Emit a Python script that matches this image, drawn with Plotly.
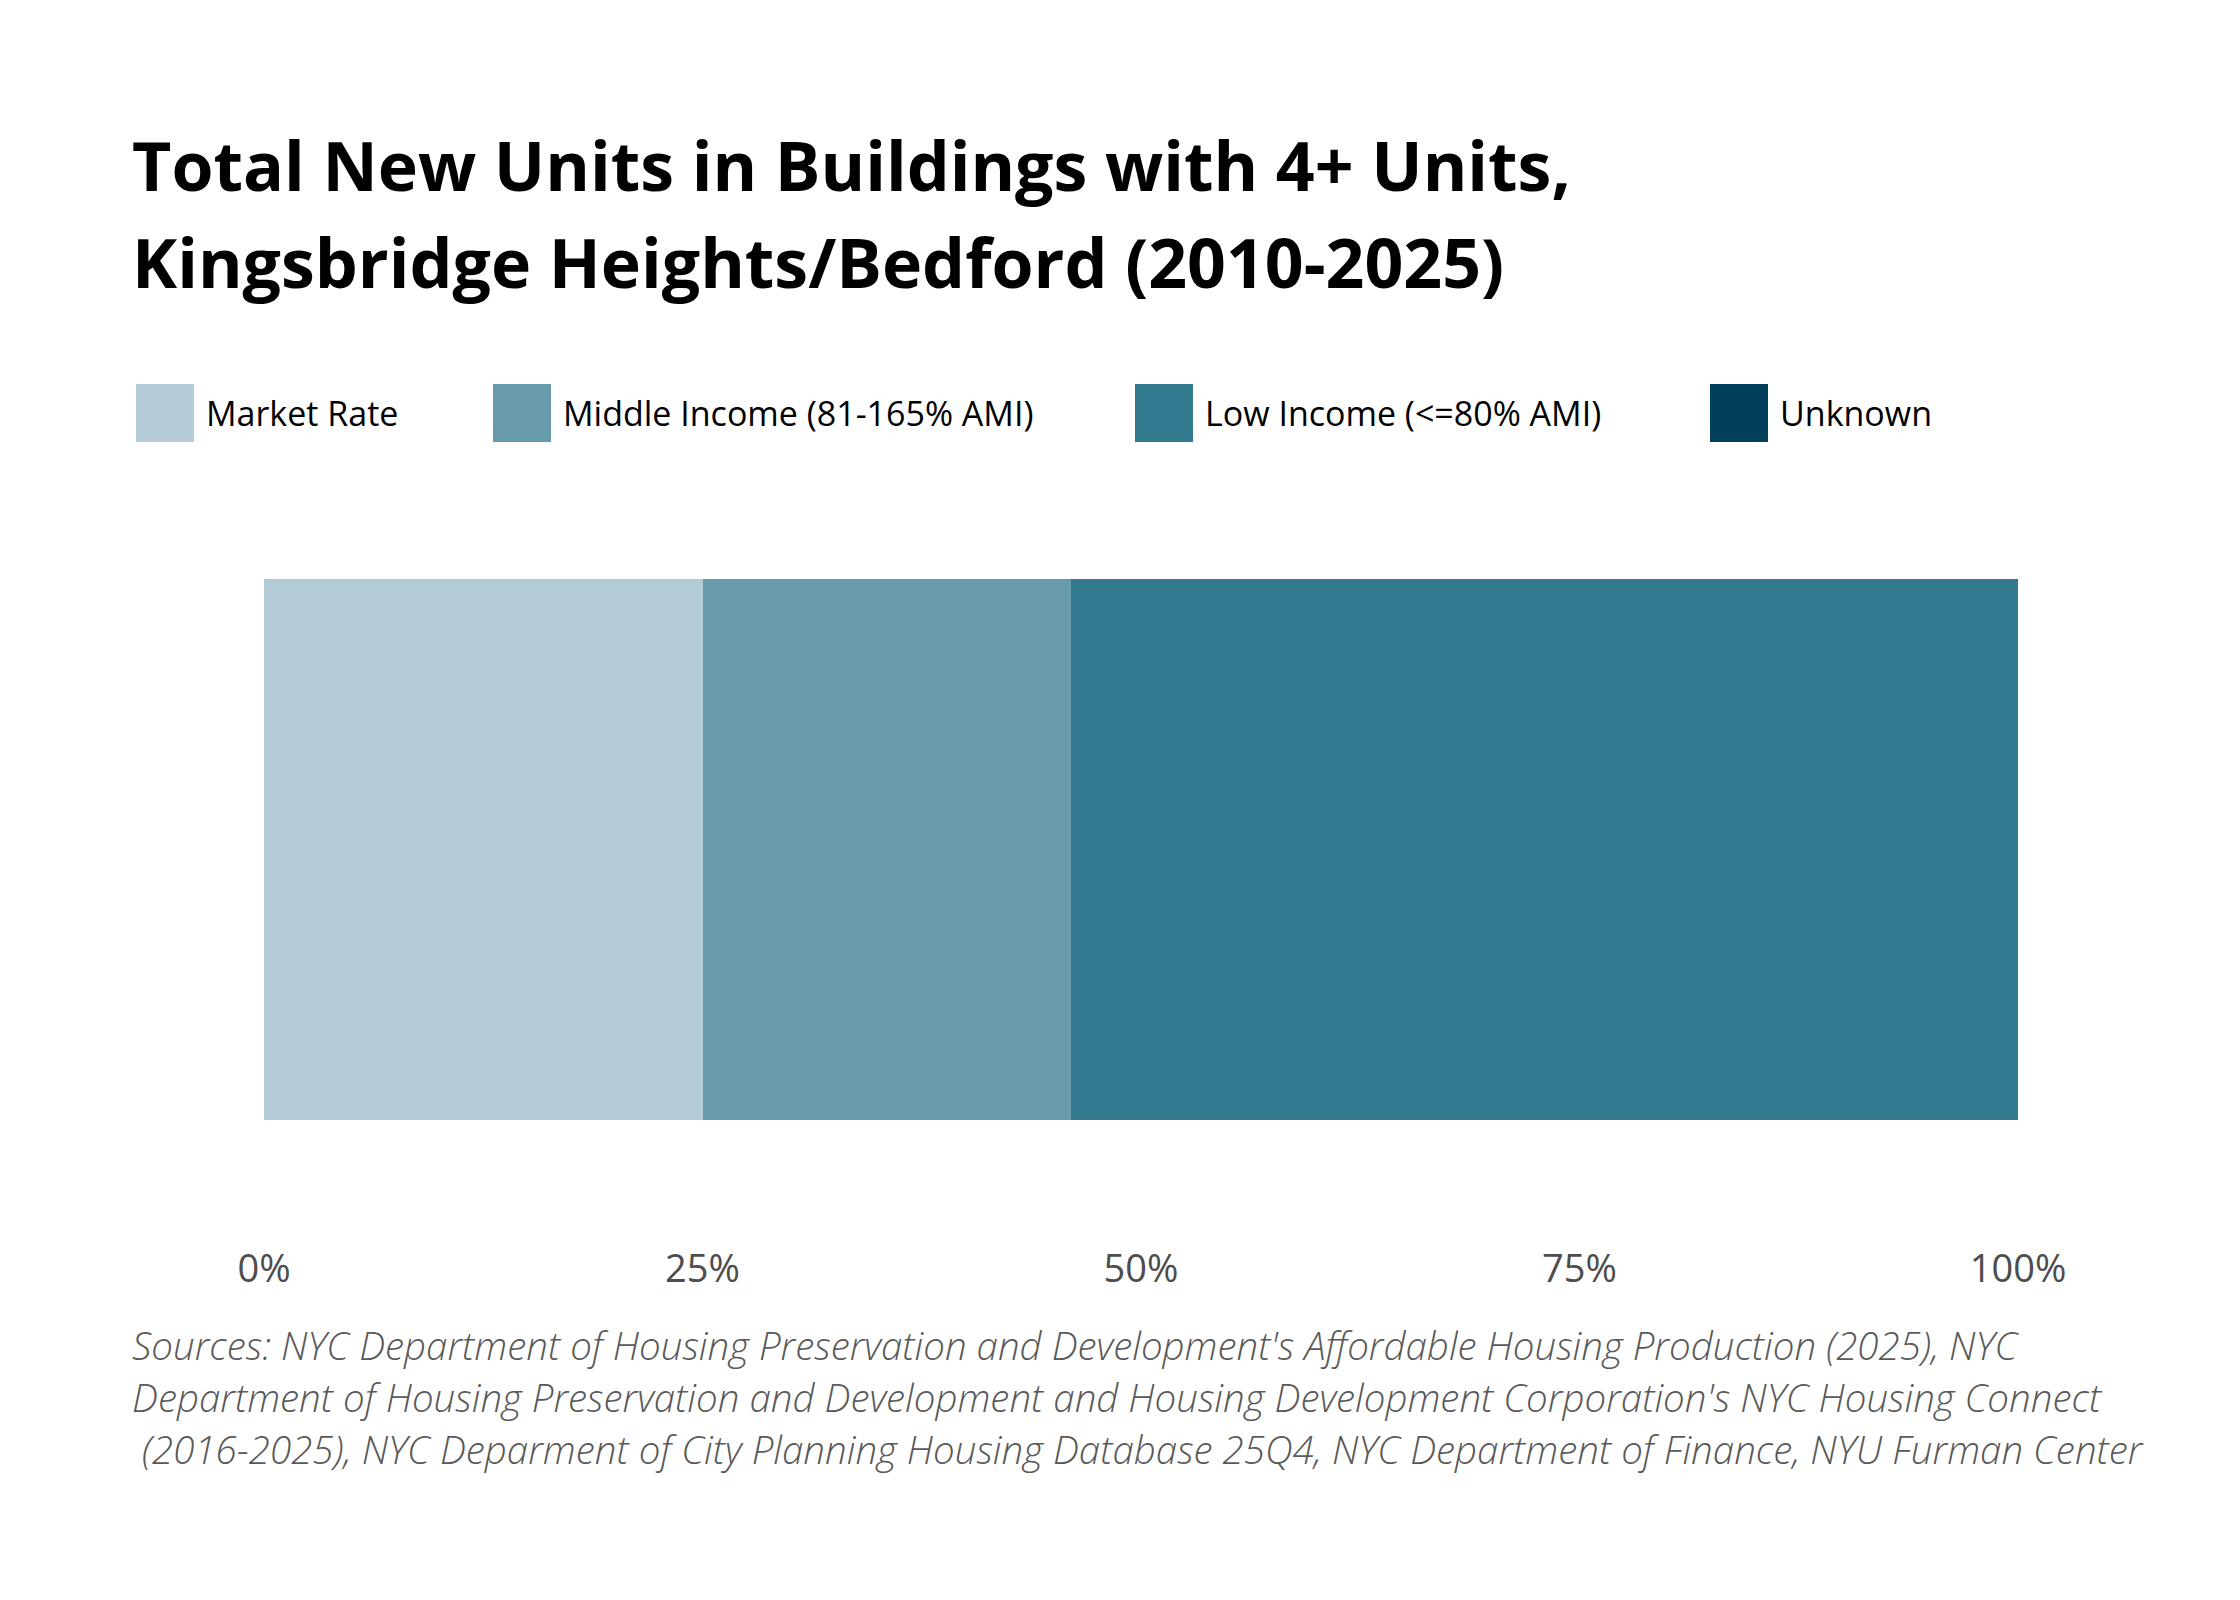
import plotly.graph_objects as go

# data
categories = ["Market Rate", "Middle Income (81-165% AMI)", "Low Income (<=80% AMI)", "Unknown"]
shares = [0.25, 0.21, 0.54, 0.0]
colors = ["#b4ccd5", "#679bab", "#337a8f", "#023f5a"]
tick_vals = [0, 0.25, 0.5, 0.75, 1.0]
tick_text = ["0%", "25%", "50%", "75%", "100%"]

title_lines = [
    "Total New Units in Buildings with 4+ Units,",
    "Kingsbridge Heights/Bedford (2010-2025)",
]
source_lines = [
    "Sources: NYC Department of Housing Preservation and Development's Affordable Housing Production (2025), NYC",
    "Department of Housing Preservation and Development and Housing Development Corporation's NYC Housing Connect",
    "&nbsp;(2016-2025), NYC Deparment of City Planning Housing Database 25Q4, NYC Department of Finance, NYU Furman Center",
]

# page offset (body margin) seen in the screenshot
OX, OY = 10, 11
W, H = 2240, 1600
# plot box wanted on screen
X0, X1, Y0, Y1 = 266, 2029, 582, 1123
L, T = X0 - OX, Y0 - OY
R, B = W - (X1 - OX - 9), H - (Y1 - OY)
PW, PH = W - L - R, H - T - B


def px_x(x):
    return (x - OX - L) / PW


def px_y(y):
    return (H - B - (y - OY)) / PH


FONT = "Open Sans"

fig = go.Figure()
for name, val, col in zip(categories, shares, colors):
    fig.add_trace(go.Bar(
        x=[val], y=[0], orientation="h", name=name,
        marker=dict(color=col, line=dict(width=0)),
        width=1, showlegend=False,
    ))

annotations = []
shapes = []

for i, line in enumerate(title_lines):
    annotations.append(dict(
        text="<b>" + line + "</b>", x=px_x(132), y=px_y(167 + i * 98),
        xref="paper", yref="paper", xanchor="left", yanchor="middle",
        showarrow=False, font=dict(family=FONT, size=68, color="#000000"),
    ))

# legend drawn by hand so the swatches can be large
legend_x = [138, 495, 1137, 1712]
sw = 58
leg_y = 416
for name, col, lx in zip(categories, colors, legend_x):
    shapes.append(dict(
        type="rect", xref="paper", yref="paper",
        x0=px_x(lx), x1=px_x(lx + sw), y0=px_y(leg_y + sw / 2), y1=px_y(leg_y - sw / 2),
        fillcolor=col, line=dict(width=0),
    ))
    annotations.append(dict(
        text=name, x=px_x(lx + sw + 10), y=px_y(leg_y),
        xref="paper", yref="paper", xanchor="left", yanchor="middle",
        showarrow=False, font=dict(family=FONT, size=34, color="#000000"),
    ))

for i, line in enumerate(source_lines):
    annotations.append(dict(
        text="<i>" + line + "</i>",
        x=px_x(132), y=px_y(1348 + i * 52),
        xref="paper", yref="paper", xanchor="left", yanchor="middle",
        showarrow=False, font=dict(family=FONT, size=38.5, color="#595959", weight=300),
    ))

fig.update_layout(
    width=W, height=H, autosize=False,
    margin=dict(l=L, r=R, t=T, b=B, pad=0),
    paper_bgcolor="white", plot_bgcolor="white",
    barmode="stack", bargap=0,
    annotations=annotations, shapes=shapes,
    xaxis=dict(
        range=[0, 1], tickvals=tick_vals, ticktext=tick_text,
        showgrid=False, zeroline=False, showline=False, ticks="",
        ticklabelstandoff=123,
        tickfont=dict(family=FONT, size=38, color="#4d4d4d"),
        fixedrange=True,
    ),
    yaxis=dict(range=[-0.5, 0.5], visible=False, fixedrange=True),
)

fig.write_html("out.html")
